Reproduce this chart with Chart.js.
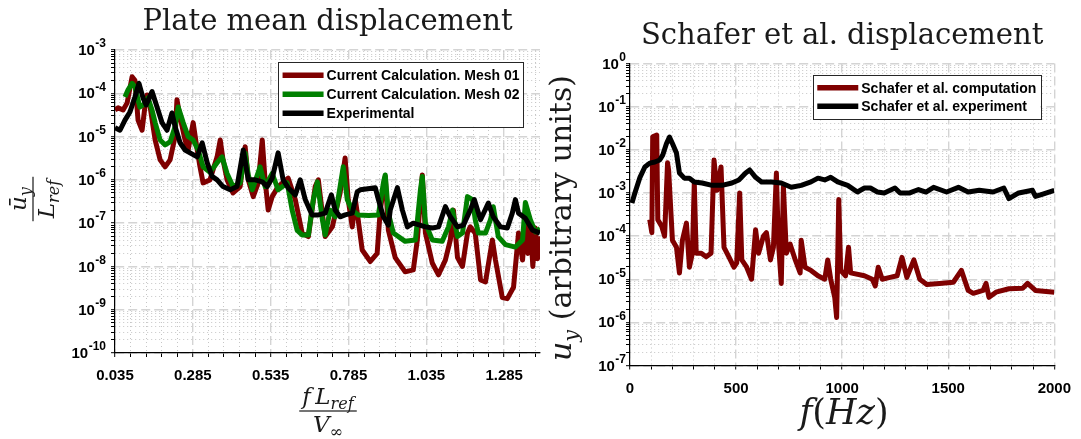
<!DOCTYPE html>
<html>
<head>
<meta charset="utf-8">
<script src="https://cdn.jsdelivr.net/npm/chart.js@4.4.1/dist/chart.umd.min.js"></script>
<style>
  body { margin: 0; background: #fff; width: 1081px; height: 439px; overflow: hidden; position: relative; }
  #plate { position: absolute; left: 0; top: 0; }
  #schafer { position: absolute; left: 548px; top: 0; }
</style>
</head>
<body>
<canvas id="plate" width="548" height="439"></canvas>
<canvas id="schafer" width="533" height="439"></canvas>
<script>
// tick labels
var plateTickLabels = ['0.035', '0.285', '0.535', '0.785', '1.035', '1.285'];
var schaferTickLabels = ['0', '500', '1000', '1500', '2000'];

// [f Lref / Vinf, uy / Lref]
var mesh01 = [[0.035,4.1e-5],[0.045,4.6e-5],[0.061,4.1e-5],[0.074,6e-5],[0.090,2.4e-4],[0.099,2.0e-4],
  [0.109,2.4e-5],[0.122,1.4e-5],[0.131,4.8e-5],[0.138,9.1e-5],[0.148,4.8e-5],[0.164,8.3e-6],[0.180,2.9e-6],
  [0.196,2e-6],[0.212,2.9e-6],[0.228,1e-5],[0.234,7.1e-5],[0.244,2.8e-5],[0.260,8.3e-6],[0.270,4.9e-6],
  [0.286,2.1e-5],[0.299,4.9e-6],[0.308,2e-6],[0.318,8.5e-7],[0.340,1e-6],[0.363,3.4e-6],[0.373,8.3e-6],
  [0.382,2.9e-6],[0.395,1e-6],[0.414,5e-7],[0.437,7e-7],[0.453,5.8e-6],[0.463,1e-6],[0.479,4.1e-7],
  [0.495,8.5e-7],[0.508,8.3e-6],[0.517,1e-6],[0.527,2e-7],[0.540,4.1e-7],[0.559,7e-7],[0.591,1.1e-6],
  [0.614,3.5e-7],[0.636,5.9e-8],[0.656,4.9e-8],[0.678,7e-7],[0.688,1e-6],[0.710,4.9e-8],[0.733,8.2e-8],
  [0.758,5e-7],[0.774,3.2e-6],[0.784,3.5e-7],[0.797,8.2e-8],[0.807,3.5e-7],[0.816,1.2e-7],[0.829,2.4e-8],
  [0.855,1.3e-8],[0.877,2e-8],[0.887,2e-7],[0.903,1.2e-6],[0.913,6.9e-8],[0.935,1.6e-8],[0.967,7.5e-9],
  [0.993,8.3e-9],[1.006,4.1e-8],[1.022,1.3e-6],[1.032,5.9e-8],[1.054,1.2e-8],[1.074,6.4e-9],[1.096,1.4e-8],
  [1.112,4.1e-8],[1.122,2e-7],[1.135,1.6e-8],[1.151,1e-8],[1.167,5.9e-8],[1.176,8.2e-8],[1.192,5.9e-8],
  [1.209,4.9e-9],[1.225,4.4e-9],[1.247,4.1e-8],[1.257,1.4e-8],[1.279,1.9e-9],[1.295,1.8e-9],[1.315,3.3e-9],
  [1.331,5.9e-8],[1.344,1.4e-8],[1.353,9e-8],[1.361,2e-8],[1.369,1e-7],[1.377,1e-8],[1.385,7.7e-8],
  [1.392,1.5e-8],[1.400,5e-8]];

var mesh02 = [[0.067,8.2e-5],[0.077,1.2e-4],[0.090,1.7e-4],[0.099,1.4e-4],[0.115,4.8e-5],[0.128,5.6e-5],
  [0.141,7.8e-5],[0.154,4.1e-5],[0.164,2.1e-5],[0.180,8.3e-6],[0.196,6.4e-6],[0.212,7.5e-6],[0.228,1.7e-5],
  [0.238,4.8e-5],[0.254,2.1e-5],[0.270,1e-5],[0.286,8.3e-6],[0.302,4.9e-6],[0.318,2e-6],[0.340,1.5e-6],
  [0.363,2.5e-6],[0.379,3.4e-6],[0.395,1.4e-6],[0.414,7e-7],[0.437,8.5e-7],[0.453,4.2e-6],[0.463,1.3e-6],
  [0.476,5.9e-7],[0.501,2e-6],[0.517,7e-7],[0.540,1.4e-6],[0.559,5.9e-7],[0.588,8.5e-7],[0.604,2e-7],
  [0.620,6.9e-8],[0.636,5.3e-8],[0.656,5.3e-8],[0.672,3.5e-7],[0.685,9e-7],[0.701,1.2e-7],[0.710,5.3e-8],
  [0.726,2e-7],[0.742,1.4e-7],[0.758,7e-7],[0.768,2e-6],[0.781,3.5e-7],[0.797,2e-7],[0.816,1.55e-7],
  [0.850,1.5e-7],[0.881,1.55e-7],[0.897,8.5e-7],[0.903,1.3e-6],[0.913,1.7e-7],[0.929,5.9e-8],[0.967,3.8e-8],
  [1.000,4.1e-8],[1.016,5.9e-7],[1.022,1.2e-6],[1.032,1e-7],[1.054,4.1e-8],[1.086,3.8e-8],[1.106,8.2e-8],
  [1.119,2e-7],[1.135,4.9e-8],[1.151,5.9e-8],[1.167,4.1e-7],[1.183,3.5e-7],[1.192,1.2e-7],[1.202,5.9e-8],
  [1.225,5.9e-8],[1.241,1.2e-7],[1.250,2.4e-7],[1.266,4.9e-8],[1.289,3.2e-8],[1.321,2.8e-8],[1.344,4.1e-8],
  [1.353,3e-7],[1.369,1.2e-7],[1.385,6.3e-8],[1.400,7.5e-8]];

var experimental = [[0.035,1.6e-5],[0.051,1.4e-5],[0.067,2.4e-5],[0.083,3.7e-5],[0.099,8.2e-5],[0.112,1.7e-4],
  [0.125,7.8e-5],[0.135,5.4e-5],[0.154,1.1e-4],[0.170,4.8e-5],[0.186,2.1e-5],[0.202,1.4e-5],[0.218,3.5e-5],
  [0.228,1.7e-5],[0.244,7.2e-6],[0.260,4.9e-6],[0.276,4.2e-6],[0.299,3.4e-6],[0.315,7.2e-6],[0.331,2.5e-6],
  [0.347,1.2e-6],[0.363,1e-6],[0.382,7e-7],[0.405,5.9e-7],[0.427,7e-7],[0.447,4.9e-6],[0.463,1e-6],
  [0.485,1e-6],[0.508,9e-7],[0.524,7e-7],[0.540,1.1e-6],[0.559,4.2e-6],[0.575,1e-6],[0.591,6.6e-7],
  [0.614,4.5e-7],[0.630,1e-6],[0.646,3.5e-7],[0.668,1.55e-7],[0.688,1.55e-7],[0.710,1.7e-7],[0.730,4.5e-7],
  [0.742,2e-7],[0.758,1.4e-7],[0.774,1.55e-7],[0.797,1.7e-7],[0.813,5.3e-7],[0.823,5.9e-7],[0.871,6.6e-7],
  [0.881,3.5e-7],[0.897,1.4e-7],[0.913,9e-8],[0.919,2e-7],[0.942,6.6e-7],[0.958,2e-7],[0.974,8.2e-8],
  [0.993,1e-7],[1.032,8.2e-8],[1.054,7.7e-8],[1.074,8.2e-8],[1.096,2.4e-7],[1.112,1.4e-7],[1.135,8.2e-8],
  [1.154,9e-8],[1.176,2e-7],[1.189,3.5e-7],[1.209,1.2e-7],[1.234,2.9e-7],[1.250,1.4e-7],[1.273,8.2e-8],
  [1.295,7.7e-8],[1.311,1.7e-7],[1.321,3.5e-7],[1.331,1.7e-7],[1.353,1.3e-7],[1.376,6.9e-8],[1.400,5.9e-8]];

// [f (Hz), uy]
var schaferComputation = [[93,2.4e-4],[103,1.2e-4],[107,2e-2],[126,2.2e-2],[131,2.4e-4],[149,1.7e-4],
  [163,1e-4],[177,5e-3],[182,3.4e-3],[200,8e-5],[219,5.5e-5],[233,1.4e-5],[247,8e-5],[266,2e-4],[280,1.9e-5],
  [294,4e-5],[303,1.7e-3],[312,4e-5],[336,4e-5],[359,3.3e-5],[382,4e-5],[396,5.8e-3],[410,1.15e-3],
  [429,4e-3],[443,5.5e-5],[466,3.3e-5],[490,1.9e-5],[503,2.4e-5],[517,1e-3],[527,2.8e-5],[550,1.9e-5],
  [573,1e-5],[592,1.4e-4],[606,4e-5],[629,1e-4],[643,1.2e-4],[662,2.8e-5],[676,5.5e-5],[690,2.9e-3],
  [699,8e-5],[713,8e-6],[723,1.4e-3],[737,4e-5],[755,6.5e-5],[779,2.8e-5],[802,1.4e-5],[807,8e-5],
  [825,1.9e-5],[853,1.6e-5],[886,1.2e-5],[918,1e-5],[932,2.8e-5],[946,1e-5],[965,3.8e-6],[974,1.3e-6],
  [984,7e-4],[993,1.6e-5],[1016,1.2e-5],[1030,5.5e-5],[1040,1.4e-5],[1105,1.2e-5],[1142,1e-5],[1156,7e-6],
  [1170,1.9e-5],[1189,1e-5],[1226,1.1e-5],[1259,1.2e-5],[1282,3.2e-5],[1305,1.1e-5],[1338,2.8e-5],
  [1366,1e-5],[1399,7.5e-6],[1459,8e-6],[1524,8.5e-6],[1562,1.6e-5],[1594,5.5e-6],[1618,4.7e-6],
  [1664,5.5e-6],[1678,8e-6],[1692,3.8e-6],[1725,5e-6],[1786,6e-6],[1851,6.2e-6],[1874,8e-6],[1911,5.5e-6],
  [2000,5e-6]];

var schaferExperiment = [[9,5.8e-4],[23,1e-3],[47,2.3e-3],[70,4e-3],[93,4.9e-3],[117,5.2e-3],[140,5.8e-3],
  [154,7.5e-3],[172,1.4e-2],[186,1.97e-2],[200,1.4e-2],[219,8.4e-3],[233,2.9e-3],[256,2.2e-3],[280,2.2e-3],
  [303,1.8e-3],[340,1.7e-3],[387,1.5e-3],[434,1.5e-3],[480,1.7e-3],[513,2e-3],[545,2.9e-3],[564,3.4e-3],
  [592,2.3e-3],[620,1.8e-3],[667,1.8e-3],[713,1.7e-3],[760,1.35e-3],[807,1.5e-3],[853,1.8e-3],[886,2.2e-3],
  [918,2e-3],[946,2.3e-3],[979,1.8e-3],[1026,1.5e-3],[1072,1.05e-3],[1105,1.3e-3],[1133,1.3e-3],
  [1166,1.05e-3],[1198,1e-3],[1249,1.3e-3],[1273,1e-3],[1319,1e-3],[1360,1.2e-3],[1395,1.05e-3],
  [1431,1.35e-3],[1492,1.05e-3],[1548,1.35e-3],[1594,1.05e-3],[1646,1.15e-3],[1711,1.05e-3],[1762,1.3e-3],
  [1786,7.4e-4],[1832,1e-3],[1897,1.15e-3],[1911,8.3e-4],[1935,9e-4],[2000,1.15e-3]];

var serif = '"DejaVu Serif"';
var sans = '"Liberation Sans", Arial, sans-serif';

function lineSet(label, points, color, order) {
    return {
        label: label,
        data: points.map(function (p) { return {x: p[0], y: p[1]}; }),
        borderColor: color,
        backgroundColor: color,
        borderWidth: 5,
        borderJoinStyle: 'round',
        pointRadius: 0,
        tension: 0,
        order: order
    };
}

// ticks every 1..9 x 10^e, powers of ten flagged as major
function decadeTicks(lo, hi) {
    var out = [];
    for (var e = lo; e < hi; e++) {
        for (var m = 1; m < 10; m++) out.push({value: m * Math.pow(10, e), major: m === 1});
    }
    out.push({value: Math.pow(10, hi), major: true});
    return out;
}

function linearTicks(labels, divisions, max) {
    var first = parseFloat(labels[0]);
    var step = (parseFloat(labels[1]) - first) / divisions;
    var out = [];
    for (var k = 0; first + k * step <= max + 1e-9; k++) {
        out.push({value: +(first + k * step).toFixed(6), major: k % divisions === 0});
    }
    return out;
}

var gridOpts = {
    color: function (c) { return c.tick && c.tick.major ? '#d4d4d4' : '#c6c6c6'; },
    lineWidth: function (c) { return c.tick && c.tick.major ? 1.4 : 1; },
    tickColor: '#000',
    tickLength: 4,
    tickWidth: 1
};
var borderOpts = {
    color: '#000',
    width: 1.2,
    dash: function (c) { return c.tick && c.tick.major ? [9, 4] : [1, 3]; }
};

function xAxis(labels, divisions, min, max, height) {
    return {
        type: 'linear', min: min, max: max,
        afterBuildTicks: function (s) { s.ticks = linearTicks(labels, divisions, max); },
        afterFit: function (s) { s.height = height; },
        ticks: {
            autoSkip: false, maxRotation: 0, padding: 10, color: '#000',
            font: {family: sans, weight: 'bold', size: 15},
            callback: function (v, i, ticks) {
                if (!ticks[i].major) return '';
                var hit = labels.filter(function (l) { return Math.abs(parseFloat(l) - v) < 1e-6; });
                return hit.length ? hit[0] : '';
            }
        },
        grid: gridOpts, border: borderOpts
    };
}

function yAxis(lo, hi, width) {
    return {
        type: 'logarithmic', min: Math.pow(10, lo), max: Math.pow(10, hi),
        afterBuildTicks: function (s) { s.ticks = decadeTicks(lo, hi); },
        afterFit: function (s) { s.width = width; },
        ticks: {display: false},
        grid: gridOpts, border: borderOpts
    };
}

// "10" with the exponent raised, drawn beside every power of ten
var powerLabels = {
    id: 'powerLabels',
    afterDraw: function (chart, args, opts) {
        var scale = chart.scales.y, ctx = chart.ctx;
        ctx.save();
        ctx.fillStyle = '#000';
        ctx.textAlign = 'right';
        ctx.textBaseline = 'middle';
        scale.ticks.forEach(function (t) {
            if (!t.major) return;
            var y = scale.getPixelForValue(t.value);
            var exp = String(Math.round(Math.log10(t.value)));
            var right = scale.right - opts.gap;
            ctx.font = 'bold 12px ' + sans;
            var ew = ctx.measureText(exp).width;
            ctx.fillText(exp, right, y - 6);
            ctx.font = 'bold 15px ' + sans;
            ctx.fillText('10', right - ew - 0.5, y + 1);
        });
        ctx.restore();
    }
};

// framed legend inside the top right corner of the plot
var boxLegend = {
    id: 'boxLegend',
    afterDatasetsDraw: function (chart, args, opts) {
        var ctx = chart.ctx, area = chart.chartArea, sets = chart.data.datasets;
        ctx.save();
        ctx.font = 'bold 14px ' + sans;
        var tw = Math.max.apply(null, sets.map(function (d) { return ctx.measureText(d.label).width; }));
        var w = 4.5 + 41 + 3 + tw + 4;
        var h = sets.length * opts.rowH + 2 * opts.pad;
        var x = area.right - opts.right - w, y = area.top + opts.top;
        ctx.fillStyle = '#fff';
        ctx.fillRect(x, y, w, h);
        ctx.strokeStyle = '#262626';
        ctx.lineWidth = 1;
        ctx.strokeRect(Math.round(x) + 0.5, Math.round(y) + 0.5, Math.round(w), Math.round(h));
        sets.forEach(function (d, i) {
            var cy = y + opts.pad + opts.rowH * (i + 0.5);
            ctx.strokeStyle = d.borderColor;
            ctx.lineWidth = 5.5;
            ctx.beginPath();
            ctx.moveTo(x + 4.5, cy);
            ctx.lineTo(x + 45.5, cy);
            ctx.stroke();
            ctx.fillStyle = '#000';
            ctx.textAlign = 'left';
            ctx.textBaseline = 'middle';
            ctx.fillText(d.label, x + 48.5, cy + 1);
        });
        ctx.restore();
    }
};

// runs of [text, style]: 'i' italic, 'r' upright, 's' italic subscript
function runFont(style, size) {
    var px = style === 's' ? size * 0.7 : size;
    return (style === 'r' ? '' : 'italic ') + px.toFixed(1) + 'px ' + serif;
}
function runWidth(ctx, parts, size) {
    var w = 0;
    parts.forEach(function (p) { ctx.font = runFont(p[1], size); w += ctx.measureText(p[0]).width; });
    return w;
}
function drawRun(ctx, parts, x, y, size) {
    var cx = x - runWidth(ctx, parts, size) / 2;
    ctx.textAlign = 'left';
    ctx.textBaseline = 'alphabetic';
    parts.forEach(function (p) {
        ctx.font = runFont(p[1], size);
        ctx.fillText(p[0], cx, p[1] === 's' ? y + size * 0.24 : y);
        cx += ctx.measureText(p[0]).width;
    });
}
function drawFraction(ctx, num, den, x, y, size) {
    var w = Math.max(runWidth(ctx, num, size), runWidth(ctx, den, size)) + 6;
    ctx.fillRect(x - w / 2, y - 0.6, w, 1.2);
    drawRun(ctx, num, x, y - size * 0.32, size);
    drawRun(ctx, den, x, y + size * 0.9, size);
}

var axisTitles = {
    id: 'axisTitles',
    afterDraw: function (chart, args, opts) {
        var ctx = chart.ctx;
        ctx.save();
        ctx.fillStyle = '#1a1a1a';
        opts.draw(ctx);
        ctx.restore();
    }
};

function baseOptions(title, titlePad, xScale, yScale, padRight) {
    return {
        responsive: false,
        animation: false,
        events: [],
        layout: {padding: {left: 0, right: padRight, top: 0, bottom: 0}},
        scales: {x: xScale, y: yScale},
        plugins: {
            legend: {display: false},
            tooltip: {enabled: false},
            title: {
                display: true, text: title, fullSize: false, color: '#1a1a1a',
                font: {family: serif, size: 29, weight: 'normal', lineHeight: 1.2},
                padding: titlePad
            }
        }
    };
}

var plateOptions = baseOptions('Plate mean displacement', {top: 5.5, bottom: 9.7},
    xAxis(plateTickLabels, 5, 0.035, 1.4, 86), yAxis(-10, -3, 115), 8);
plateOptions.plugins.powerLabels = {gap: 9};
plateOptions.plugins.boxLegend = {right: 16.5, top: 11.7, rowH: 19, pad: 4};
plateOptions.plugins.axisTitles = {
    draw: function (ctx) {
        drawFraction(ctx, [['f', 'i'], ['\u2009', 'r'], ['L', 'i'], ['ref', 's']], [['V', 'i'], ['\u221e', 's']], 328, 411, 23);
        ctx.translate(33, 199);
        ctx.rotate(-Math.PI / 2);
        drawFraction(ctx, [['\u016b', 'i'], ['y', 's']], [['L', 'i'], ['ref', 's']], 0, 0, 23);
    }
};

var schaferOptions = baseOptions('Schafer et al. displacement', {top: 19, bottom: 9.7},
    xAxis(schaferTickLabels, 5, 0, 2000, 73.5), yAxis(-7, 0, 82), 22);
schaferOptions.plugins.powerLabels = {gap: 4};
schaferOptions.plugins.boxLegend = {right: 14, top: 11.5, rowH: 18.5, pad: 3.5};
schaferOptions.plugins.axisTitles = {
    draw: function (ctx) {
        drawRun(ctx, [['f', 'i'], ['(', 'r'], ['Hz', 'i'], [')', 'r']], 296, 424, 35);
        ctx.translate(23, 218);
        ctx.rotate(-Math.PI / 2);
        drawRun(ctx, [['u', 'i'], ['y', 's'], [' (arbitrary units)', 'r']], 0, 0, 30);
    }
};

new Chart(document.getElementById('plate').getContext('2d'), {
    type: 'line',
    data: {
        datasets: [
            lineSet('Current Calculation. Mesh 01', mesh01, '#7f0000', 3),
            lineSet('Current Calculation. Mesh 02', mesh02, '#008000', 2),
            lineSet('Experimental', experimental, '#000000', 1)
        ]
    },
    options: plateOptions,
    plugins: [powerLabels, boxLegend, axisTitles]
});

new Chart(document.getElementById('schafer').getContext('2d'), {
    type: 'line',
    data: {
        datasets: [
            lineSet('Schafer et al. computation', schaferComputation, '#7f0000', 2),
            lineSet('Schafer et al. experiment', schaferExperiment, '#000000', 1)
        ]
    },
    options: schaferOptions,
    plugins: [powerLabels, boxLegend, axisTitles]
});
</script>
</body>
</html>
